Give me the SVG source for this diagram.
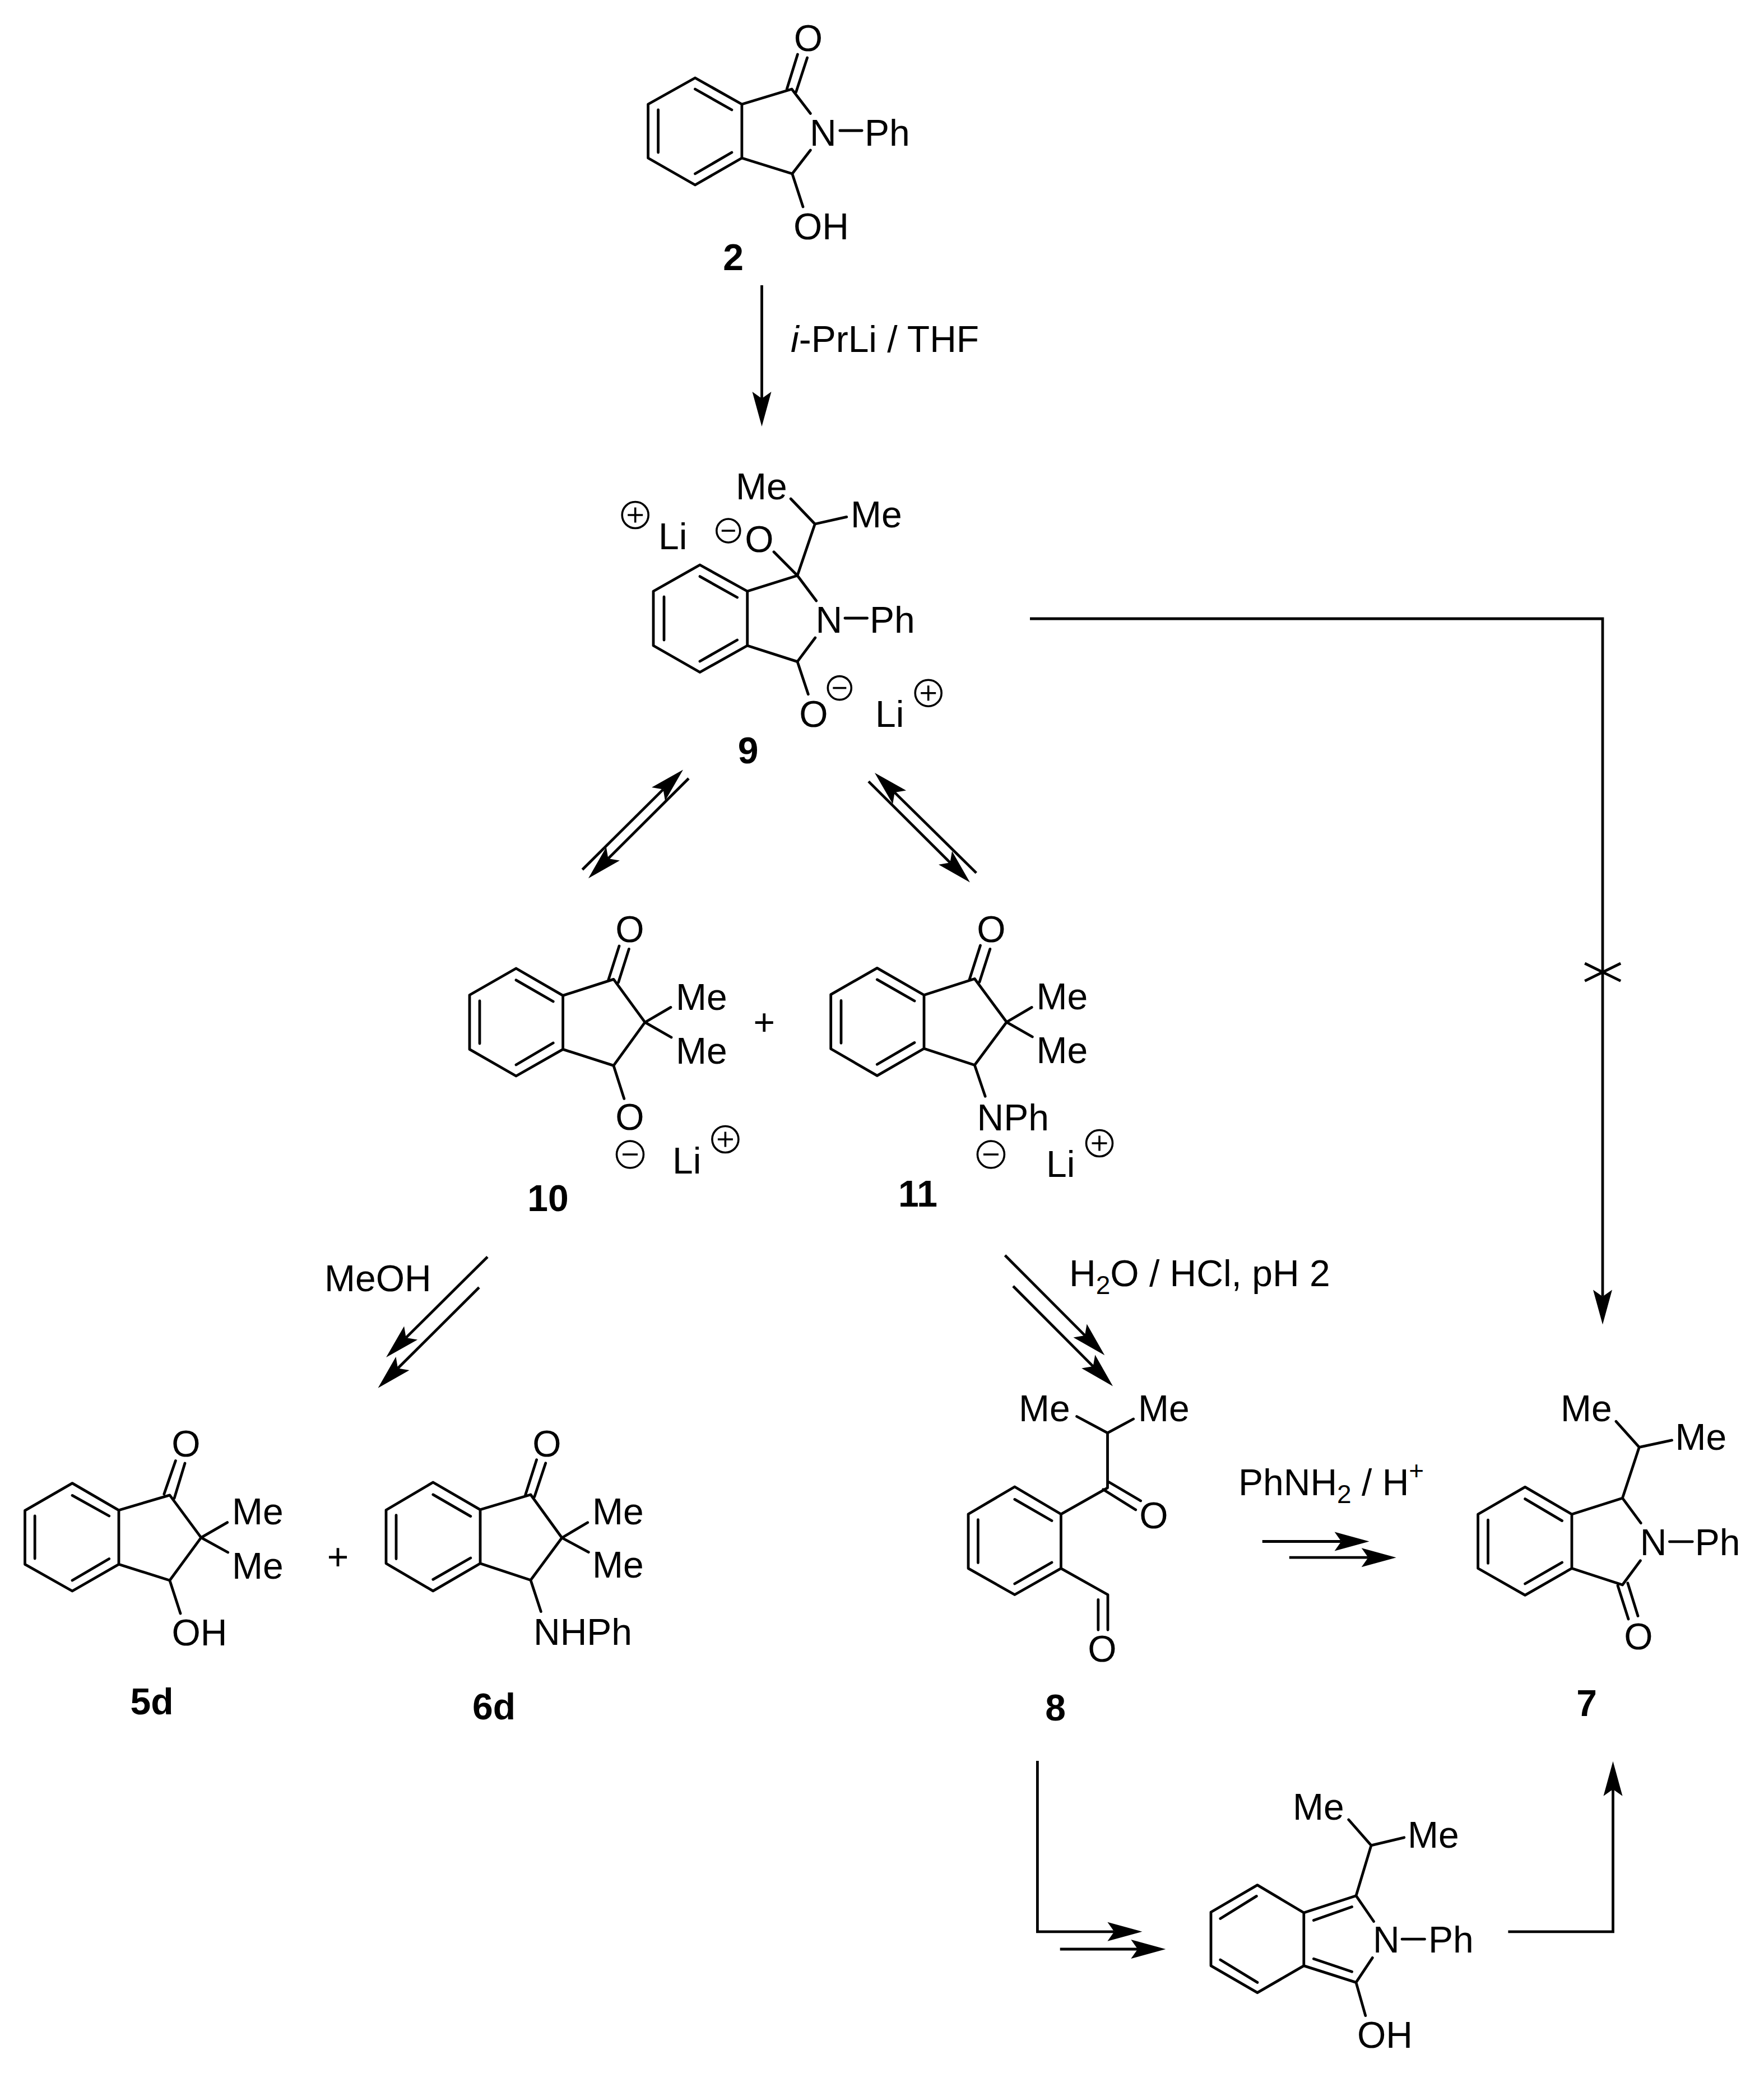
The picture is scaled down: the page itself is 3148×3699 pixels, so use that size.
<svg xmlns="http://www.w3.org/2000/svg" xmlns:xlink="http://www.w3.org/1999/xlink" width="3148" height="3699" viewBox="0 0 3148 3699">
<style>
text{font-family:"Liberation Sans",Arial,sans-serif;font-size:66px;fill:#000}
.m{text-anchor:middle}
.b{font-weight:bold}
.bond{fill:none;stroke:#000;stroke-width:4.8;stroke-linecap:round;stroke-linejoin:round}
.arr{fill:none;stroke:#000;stroke-width:4.8;stroke-linecap:butt;stroke-linejoin:miter}
.ah{marker-end:url(#head)}
.sub{font-size:46px}
.chg{fill:none;stroke:#000;stroke-width:3.6}
</style>
<defs>
<marker id="head" markerUnits="userSpaceOnUse" markerWidth="70" markerHeight="40" refX="12" refY="18" orient="auto" overflow="visible"><path d="M62,18L0,1L12,18L0,35Z" fill="#000"/></marker>
<g id="plus"><circle class="chg" r="23.5"/><path class="chg" d="M-13.5,0H13.5M0,-13.5V13.5"/></g>
<g id="minus"><circle class="chg" r="21"/><path class="chg" d="M-12,0H12"/></g>
<g id="minusL"><circle class="chg" r="24"/><path class="chg" d="M-13.5,0H13.5"/></g>
</defs>
<rect width="3148" height="3699" fill="#fff"/>

<g id="connectors">
<path class="arr ah" d="M1359.5,509V711"/>
<path class="arr ah" d="M1039.3,1551.7L1183.5,1408.6"/>
<path class="arr ah" d="M1229,1389L1085.4,1532"/>
<path class="arr ah" d="M1742.3,1557.6L1596.6,1414.1"/>
<path class="arr ah" d="M1550,1394.4L1695.5,1539.2"/>
<path class="arr ah" d="M870,2242.7L724.6,2386.9"/>
<path class="arr ah" d="M855,2297.3L710,2441.5"/>
<path class="arr ah" d="M1793.5,2240L1936,2382.9"/>
<path class="arr ah" d="M1808,2295L1950.7,2438.1"/>
<path class="arr ah" d="M2252.7,2750.5H2393.6"/>
<path class="arr ah" d="M2300.8,2779.2H2441.7"/>
<path class="arr ah" d="M1838,1104H2860V2313.5"/>
<path class="arr" d="M2828.2,1719L2892.2,1750.4M2828.2,1750.4L2892.2,1719"/>
<path class="arr ah" d="M1851.4,3142V3446.8H1988.4"/>
<path class="arr ah" d="M1891.7,3478H2030.3"/>
<path class="arr ah" d="M2691.4,3446.8H2878.5V3192.8"/>
</g>

<g id="mol-2">
<path class="bond" d="M1240.5,139L1156.6,186V282L1240.5,330L1323.9,282V186ZM1240.5,159L1305.9,196M1174.6,196V272M1240.5,310L1305.9,272M1323.9,186L1413,159L1446.3,202.5M1323.9,282L1413.8,310L1446.3,268M1413.8,310L1433,369M1404.2,159L1423.4,97M1420.7,164L1440.6,103M1498.8,233H1538.2"/>
<text class="m" x="1442.5" y="91">O</text>
<text x="1445" y="260">N</text>
<text x="1543" y="260">Ph</text>
<text x="1416" y="427">OH</text>
<text class="m b" x="1308.5" y="482">2</text>
<text x="1411" y="628"><tspan font-style="italic">i</tspan>-PrLi / THF</text>
</g>

<g id="mol-9">
<path class="bond" d="M1249,1008L1166,1055V1152L1249,1199.5L1333.7,1152V1055ZM1249,1028.6L1315.6,1066M1185,1065V1142M1249,1180L1315.6,1142M1333.7,1055L1423,1027L1456.7,1072M1333.7,1152L1423,1180.6L1454.8,1138M1423,1027L1381,984.7M1423,1027L1454.3,935L1411.2,890M1454.3,935L1510.8,922.4M1423,1180.6L1442.3,1238.8M1507.9,1103H1547.6"/>
<text x="1313" y="891">Me</text>
<text x="1518" y="941">Me</text>
<text class="m" x="1355" y="985">O</text>
<use xlink:href="#minus" href="#minus" x="1299.8" y="947"/>
<use xlink:href="#plus" href="#plus" x="1133.7" y="919"/>
<text x="1175" y="980">Li</text>
<text x="1455.5" y="1129">N</text>
<text x="1552" y="1129">Ph</text>
<text class="m" x="1452" y="1297">O</text>
<use xlink:href="#minus" href="#minus" x="1498.3" y="1227.6"/>
<text x="1562" y="1297">Li</text>
<use xlink:href="#plus" href="#plus" x="1656.7" y="1236.7"/>
<text class="m b" x="1335" y="1362">9</text>
</g>

<g id="mol-10">
<path class="bond" d="M921,1728L838,1775.5V1872.4L921,1920L1004.6,1872.4V1776.4ZM921,1748.8L987.2,1787M856,1786V1862M921,1900L987.2,1861M1004.6,1776.4L1095,1747.4L1151,1824.2L1095,1901.4L1004.6,1872.4M1151,1824.2L1197,1797.4M1151,1824.2L1198,1851M1085.7,1748.8L1105,1688M1103.6,1753L1122.4,1693.4M1095,1901.4L1113.8,1960.4"/>
<text class="m" x="1124" y="1681">O</text>
<text x="1206" y="1802">Me</text>
<text x="1206" y="1898">Me</text>
<text class="m" x="1124" y="2016">O</text>
<use xlink:href="#minusL" href="#minusL" x="1124.5" y="2060"/>
<text x="1200" y="2094">Li</text>
<use xlink:href="#plus" href="#plus" x="1294.4" y="2033"/>
<text class="m b" x="978" y="2161">10</text>
</g>

<text id="plus-1" class="m" x="1363.8" y="1847">+</text>

<g id="mol-11">
<path class="bond" d="M1565.3,1727.3L1482.7,1774.6V1871.5L1565.3,1919.3L1649,1871V1775.5ZM1565.3,1747.9L1632,1786M1501,1785.4V1861.3M1565.3,1899.2L1632,1860.4M1649,1775.5L1739.3,1746.5L1796.4,1823.8L1739.3,1900.5L1649,1871M1796.4,1823.8L1841.3,1797.4M1796.4,1823.8L1842.3,1850M1730,1747.9L1749.5,1687M1748,1752.3L1766.8,1693.4M1739.3,1900.5L1758.2,1956.3"/>
<text class="m" x="1768.9" y="1681">O</text>
<text x="1849.6" y="1801">Me</text>
<text x="1849.6" y="1897">Me</text>
<text x="1743.6" y="2017">NPh</text>
<use xlink:href="#minusL" href="#minusL" x="1768.4" y="2060"/>
<text x="1867" y="2100">Li</text>
<use xlink:href="#plus" href="#plus" x="1962" y="2040"/>
<text class="m b" x="1638" y="2153">11</text>
</g>

<g id="label-meoh"><text x="579" y="2304">MeOH</text></g>
<g id="label-h2o"><text x="1908" y="2295">H<tspan class="sub" dy="14">2</tspan><tspan dy="-14">O / HCl, pH 2</tspan></text></g>

<g id="mol-5d">
<path class="bond" d="M129,2646.6L44.5,2695.4V2791.3L129,2839L212,2791.3V2694.8ZM129,2668.4L194.7,2705M62.2,2705V2781M129,2820L194.7,2781.5M212,2694.8L302.9,2667.9L358.9,2743.6L302.9,2820L212,2791.3M358.9,2743.6L405.7,2716.6M358.9,2743.6L406.7,2770M292.8,2666L313.4,2606.4M311,2673.6L330,2611M302.9,2820L322,2879"/>
<text class="m" x="332" y="2599">O</text>
<text x="414" y="2720">Me</text>
<text x="414" y="2817">Me</text>
<text x="306.5" y="2936">OH</text>
<text class="m b" x="271" y="3059">5d</text>
</g>

<text id="plus-2" class="m" x="603" y="2801">+</text>

<g id="mol-6d">
<path class="bond" d="M772.8,2645L689,2694.5V2789.8L772.8,2838.9L857,2789.8V2693.8ZM772.8,2666.9L839.8,2705.6M707,2703.6V2781.5M772.8,2818.3L839.8,2780M857,2693.8L947,2667L1002.8,2744L947,2819.5L857,2789.8M1002.8,2744L1048.7,2716.7M1002.8,2744L1050.3,2769.7M937.7,2667.3L957.6,2604.8M953.8,2670.8L973.7,2610.7M947,2819.5L965.3,2875.6"/>
<text class="m" x="976" y="2599">O</text>
<text x="1057" y="2720">Me</text>
<text x="1057" y="2815">Me</text>
<text x="952" y="2935">NHPh</text>
<text class="m b" x="881.5" y="3068">6d</text>
</g>

<g id="mol-8">
<path class="bond" d="M1810.8,2653L1728,2701.8V2798.6L1810.8,2845.5L1893.4,2798.6V2701.8ZM1810.8,2675.4L1877,2713.5M1745.4,2711.7V2788.6M1810.8,2826L1877,2788M1893.4,2701.8L1976.5,2654.8V2556.8L1921.6,2527.5M1976.5,2556.8L2022.6,2532M1968.7,2657.7L2026.7,2694M1978,2644L2035.6,2678M1893.4,2798.6L1977,2845.5V2908.3M1959.8,2854.3V2908.3"/>
<text x="1818" y="2536">Me</text>
<text x="2031" y="2536">Me</text>
<text class="m" x="2059" y="2727">O</text>
<text class="m" x="1967" y="2965">O</text>
<text class="m b" x="1883.5" y="3070">8</text>
</g>

<g id="label-phnh2"><text x="2210" y="2668">PhNH<tspan class="sub" dy="14">2</tspan><tspan dy="-14"> / H</tspan><tspan class="sub" dy="-28">+</tspan></text></g>

<g id="mol-7">
<path class="bond" d="M2721.6,2653.4L2637.6,2702V2798.5L2721.6,2846.3L2805,2798.5V2702ZM2721.6,2674.6L2787.6,2713.6M2655.5,2712.2V2789.4M2721.6,2826L2787.6,2788M2805,2702L2895.4,2673.2L2928.2,2717.7M2805,2798.5L2895.4,2828L2927.4,2784.8M2895.4,2673.2L2925.3,2582.3L2884,2536.4M2925.3,2582.3L2983.6,2569.9M2887,2829.3L2906,2889M2904.8,2824.7L2923,2883.5M2979.4,2750.8H3020.3"/>
<text x="2785" y="2536">Me</text>
<text x="2989.5" y="2587">Me</text>
<text x="2926.7" y="2775">N</text>
<text x="3024.7" y="2775">Ph</text>
<text class="m" x="2924" y="2943">O</text>
<text class="m b" x="2831.5" y="3062">7</text>
</g>

<g id="mol-isoindole">
<path class="bond" d="M2243.9,3363.6L2161,3412V3507.6L2243.9,3555.7L2326.8,3507.6V3413ZM2242.4,3383.4L2177.8,3423.5M2177.8,3497L2243.9,3537.4M2326.8,3413L2420,3382.7L2451.5,3428.5M2326.8,3507.6L2420,3537.4L2449.3,3493.4M2344.4,3426.6L2412.6,3402.5M2344.4,3495.3L2412.6,3518.3M2420,3382.7L2447,3292.9L2406.7,3247M2447,3292.9L2505.8,3278.8M2420,3537.4L2436.8,3596.6M2502,3460.2H2542.5"/>
<text x="2307" y="3247">Me</text>
<text x="2512" y="3297">Me</text>
<text x="2450" y="3484">N</text>
<text x="2549" y="3484">Ph</text>
<text x="2422" y="3654">OH</text>
</g>
</svg>
